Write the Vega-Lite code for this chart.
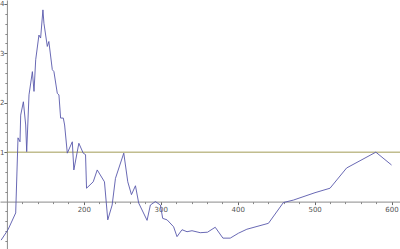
{
  "$schema": "https://vega.github.io/schema/vega-lite/v6.json",
  "width": 400,
  "height": 249,
  "padding": 0,
  "autosize": "none",
  "background": "white",
  "config": {"view": {"stroke": null}},
  "datasets": {
    "series": [
      {"x": 92.5, "y": -0.78},
      {"x": 101.4, "y": -0.57},
      {"x": 111.4, "y": -0.23},
      {"x": 114.4, "y": 1.29},
      {"x": 117, "y": 1.21},
      {"x": 117.9, "y": 1.75},
      {"x": 121.4, "y": 2.02},
      {"x": 124.4, "y": 1.55},
      {"x": 125.7, "y": 1.01},
      {"x": 128.7, "y": 2.16},
      {"x": 133.1, "y": 2.63},
      {"x": 135.2, "y": 2.23},
      {"x": 137.4, "y": 2.87},
      {"x": 141.6, "y": 3.37},
      {"x": 143.8, "y": 3.31},
      {"x": 146.8, "y": 3.88},
      {"x": 148.1, "y": 3.61},
      {"x": 152.5, "y": 3.14},
      {"x": 154.5, "y": 3.24},
      {"x": 159, "y": 2.67},
      {"x": 161.1, "y": 2.63},
      {"x": 165.5, "y": 2.19},
      {"x": 167.6, "y": 2.16},
      {"x": 169.8, "y": 1.69},
      {"x": 173.3, "y": 1.69},
      {"x": 175, "y": 1.55},
      {"x": 178.5, "y": 0.98},
      {"x": 185, "y": 1.21},
      {"x": 187, "y": 0.64},
      {"x": 193.5, "y": 1.18},
      {"x": 199.2, "y": 0.98},
      {"x": 202.2, "y": 0.95},
      {"x": 203.5, "y": 0.27},
      {"x": 212.2, "y": 0.4},
      {"x": 217.4, "y": 0.64},
      {"x": 226.8, "y": 0.4},
      {"x": 231.1, "y": -0.37},
      {"x": 236.8, "y": -0.07},
      {"x": 241.1, "y": 0.47},
      {"x": 251.9, "y": 0.98},
      {"x": 257.1, "y": 0.4},
      {"x": 261.9, "y": 0.14},
      {"x": 267.1, "y": 0.32},
      {"x": 271.3, "y": -0.03},
      {"x": 282.2, "y": -0.38},
      {"x": 286.5, "y": -0.07},
      {"x": 293, "y": 0},
      {"x": 299.5, "y": -0.07},
      {"x": 302.5, "y": -0.34},
      {"x": 308.2, "y": -0.37},
      {"x": 316.7, "y": -0.51},
      {"x": 321.1, "y": -0.71},
      {"x": 327.6, "y": -0.57},
      {"x": 334.1, "y": -0.61},
      {"x": 340.6, "y": -0.59},
      {"x": 351.3, "y": -0.63},
      {"x": 360.8, "y": -0.62},
      {"x": 370.8, "y": -0.52},
      {"x": 380.8, "y": -0.74},
      {"x": 390.3, "y": -0.74},
      {"x": 401, "y": -0.64},
      {"x": 411.9, "y": -0.56},
      {"x": 440, "y": -0.44},
      {"x": 459.4, "y": -0.02},
      {"x": 472.4, "y": 0.03},
      {"x": 500.5, "y": 0.18},
      {"x": 520, "y": 0.27},
      {"x": 541.6, "y": 0.68},
      {"x": 579.6, "y": 1.0},
      {"x": 600, "y": 0.74}
    ],
    "reference": [
      {"x": 100, "x2": 611, "y": 1}
    ]
  },
  "layer": [
    {
      "data": {"name": "reference"},
      "mark": {"type": "rule", "color": "#a19c55", "strokeWidth": 1},
      "encoding": {
        "x": {
          "field": "x", "type": "quantitative",
          "scale": {"domain": [91, 611], "nice": false, "zero": false},
          "axis": {
            "title": null, "orient": "bottom",
            "offset": -47.4,
            "values": [200, 300, 400, 500, 600],
            "grid": false, "domainColor": "#8a8a8a", "domainWidth": 1,
            "tickColor": "#666", "tickSize": 3, "tickWidth": 1,
            "labelFont": "DejaVu Sans", "labelFontSize": 7, "labelColor": "#555",
            "labelPadding": 1, "labelFlush": false
          }
        },
        "x2": {"field": "x2"},
        "y": {
          "field": "y", "type": "quantitative",
          "scale": {"domain": [-0.96, 4.08], "nice": false, "zero": false},
          "axis": {
            "title": null, "orient": "left",
            "offset": -6.9,
            "values": [1, 2, 3, 4],
            "grid": false, "domainColor": "#8a8a8a", "domainWidth": 1,
            "tickColor": "#666", "tickSize": 3, "tickWidth": 1,
            "labelFont": "DejaVu Sans", "labelFontSize": 7, "labelColor": "#555",
            "labelPadding": 0, "labelFlush": false
          }
        }
      }
    },
    {
      "data": {"name": "series"},
      "mark": {"type": "line", "color": "#5858ab", "strokeWidth": 0.9, "interpolate": "linear"},
      "encoding": {
        "x": {
          "field": "x", "type": "quantitative",
          "axis": {
            "title": null, "orient": "bottom",
            "offset": -47.4,
            "values": [120, 140, 160, 180, 220, 240, 260, 280, 320, 340, 360, 380, 420, 440, 460, 480, 520, 540, 560, 580],
            "labels": false, "domain": false, "grid": false,
            "tickColor": "#888", "tickSize": 2, "tickWidth": 1
          }
        },
        "y": {
          "field": "y", "type": "quantitative",
          "axis": {
            "title": null, "orient": "left",
            "offset": -6.9,
            "values": [-0.8, -0.6, -0.4, -0.2, 0.2, 0.4, 0.6, 0.8, 1.2, 1.4, 1.6, 1.8, 2.2, 2.4, 2.6, 2.8, 3.2, 3.4, 3.6, 3.8],
            "labels": false, "domain": false, "grid": false,
            "tickColor": "#888", "tickSize": 2, "tickWidth": 1
          }
        }
      }
    }
  ],
  "resolve": {"axis": {"x": "independent", "y": "independent"}}
}
